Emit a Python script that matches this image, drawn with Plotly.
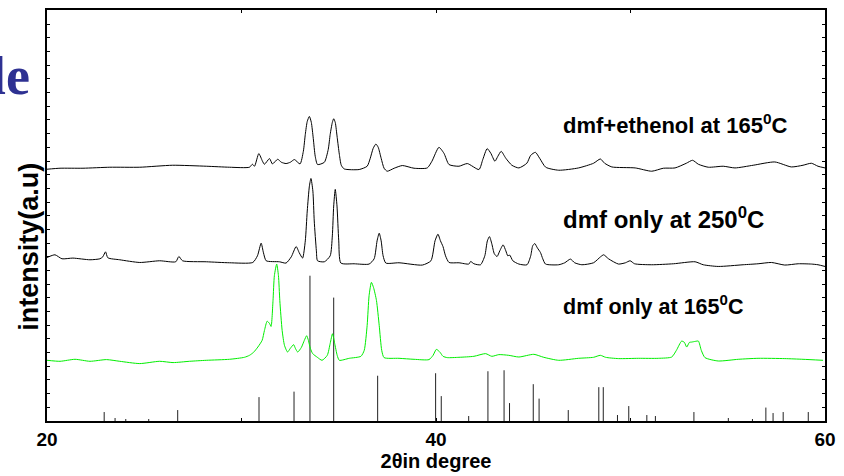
import plotly.graph_objects as go

# ---- data (2theta in degrees, intensity in arbitrary units) ----
top_x = [20.00, 20.67, 21.85, 23.23, 24.77, 26.46, 28.21, 29.38, 30.41, 30.56, 30.67, 30.89, 31.08, 31.18,
         31.44, 31.59, 31.86, 32.05, 32.29, 32.51, 32.72, 33.01, 33.18, 33.28, 33.38, 33.49, 33.59, 33.69,
         33.79, 33.91, 34.26, 34.46, 34.56, 34.67, 34.74, 34.82, 34.92, 35.03, 35.13, 35.28, 36.05, 36.46,
         36.62, 36.77, 36.91, 37.03, 37.18, 37.33, 37.49, 37.85, 38.27, 38.87, 39.55, 39.79, 40.15, 40.41,
         40.67, 41.18, 41.61, 42.21, 42.41, 42.63, 42.82, 43.03, 43.18, 43.35, 43.59, 43.90, 44.26, 44.67,
         44.87, 45.11, 45.33, 45.64, 46.31, 47.33, 48.10, 48.45, 48.67, 49.04, 50.24, 51.09, 51.69, 52.29,
         52.87, 53.19, 53.49, 54.00, 54.77, 55.37, 56.31, 57.42, 58.27, 58.87, 59.30, 59.64, 60.00]
top_y = [253, 254, 254, 255, 255, 257, 256, 255, 255, 258, 256, 268.7, 261, 258,
         263.7, 258.3, 263, 260, 258.7, 260, 262.7, 258.3, 271, 288, 301, 306, 300, 284,
         266, 257.7, 260, 273, 288, 300, 303.7, 300, 285, 268, 257, 253.3, 252.7, 256,
         264, 274, 278.3, 275, 264, 254, 251, 254, 256.7, 254, 254.3, 261, 275, 269,
         257.7, 256, 258.7, 252.7, 263, 273.7, 269, 261, 266, 271, 264, 257, 254.3, 259,
         267, 270, 264, 255, 252, 254.3, 259, 263.3, 259, 255.3, 254.3, 251, 254, 254.3,
         259, 262, 258, 255, 256, 254.3, 257, 260.3, 255.3, 257, 259, 256, 254.3]

mid_x = [20.00, 20.41, 20.77, 21.33, 22.21, 22.72, 22.87, 23.01, 23.13, 23.74, 24.77, 25.79, 26.62, 26.78,
         26.97, 28.19, 29.38, 30.58, 30.82, 31.01, 31.13, 31.27, 31.95, 32.29, 32.56, 32.81, 32.97, 33.14,
         33.28, 33.38, 33.49, 33.57, 33.67, 33.74, 33.85, 33.91, 34.26, 34.56, 34.67, 34.74, 34.82, 34.91,
         35.00, 35.11, 35.79, 36.56, 36.82, 36.97, 37.08, 37.18, 37.28, 37.42, 38.10, 39.30, 39.74, 39.95,
         40.10, 40.23, 40.36, 40.49, 40.67, 41.18, 41.69, 41.78, 41.95, 42.29, 42.51, 42.64, 42.75, 42.87,
         43.00, 43.14, 43.28, 43.45, 43.59, 43.69, 43.79, 43.95, 44.26, 44.68, 44.87, 44.97, 45.08, 45.21,
         45.37, 45.49, 45.63, 46.31, 46.62, 46.91, 47.13, 47.50, 48.10, 48.46, 48.62, 48.87, 49.38, 49.74,
         49.98, 50.21, 51.09, 52.21, 53.32, 53.74, 54.51, 55.79, 56.56, 57.25, 57.93, 58.62, 59.30, 59.64, 60.00]
mid_y = [164.3, 167, 163, 163.7, 162, 163, 165, 170, 164, 162, 159.3, 161, 160, 165.3,
         161, 160, 159, 159.3, 166, 178.7, 169, 161, 160, 158.7, 165, 175.3, 169, 163.7,
         181, 211, 236, 243.7, 231, 201, 171, 161, 160, 166, 186, 216, 232.7, 216,
         181, 158.7, 158, 157.7, 163, 181, 188.7, 181, 166, 158.7, 159, 156.7, 161, 181,
         187.7, 181, 175.3, 166, 159.3, 159, 157.7, 160.3, 158, 157, 166, 181, 185.3, 178,
         168, 165.3, 171, 177, 171, 166, 166.7, 161, 157.7, 157, 166, 176, 178.3, 174,
         169.3, 163, 157.7, 157, 159, 162.7, 159, 157, 159, 165, 167, 163, 157.7, 159,
         161, 158, 157, 158, 160, 157, 155.3, 157, 158, 159.3, 156.7, 158, 157.7, 157, 155.3]

low_x = [20.00, 20.67, 21.44, 22.21, 23.06, 23.74, 24.77, 25.79, 26.48, 27.33, 28.19, 29.38, 30.15, 30.41,
         30.62, 30.84, 31.06, 31.18, 31.32, 31.44, 31.52, 31.62, 31.69, 31.81, 31.90, 31.97, 32.09, 32.21,
         32.37, 32.51, 32.68, 32.77, 32.89, 33.08, 33.23, 33.35, 33.44, 33.54, 33.66, 33.90, 34.14, 34.41,
         34.56, 34.68, 34.79, 34.92, 35.03, 35.54, 36.14, 36.31, 36.46, 36.56, 36.68, 36.79, 36.94, 37.08,
         37.21, 37.33, 38.10, 38.87, 39.64, 39.85, 40.02, 40.21, 40.36, 40.58, 41.18, 41.95, 42.55, 42.87,
         43.23, 43.74, 44.26, 45.03, 45.54, 46.31, 47.33, 48.10, 48.45, 48.72, 49.38, 50.41, 51.44, 52.12,
         52.36, 52.63, 52.77, 52.89, 53.03, 53.14, 53.33, 53.49, 53.64, 53.83, 54.51, 55.54, 56.56, 57.93,
         58.87, 59.90]
low_y = [61, 60, 62, 60, 61.7, 60, 57.7, 60, 58.7, 60, 61, 62, 64, 66,
         69, 74.3, 81, 91, 100.3, 98, 95, 121, 146, 157.7, 146, 121, 91, 76,
         69.3, 73, 76.7, 73, 69.3, 74, 81, 85.7, 81, 73, 67.7, 64, 61, 66,
         78, 87.7, 78, 66, 61, 63, 65, 71, 96, 126, 139.3, 134, 121, 96,
         71, 63.7, 63, 62, 61.7, 66, 72, 69, 65, 63.7, 64, 65, 67.7, 65,
         66.7, 66, 64.3, 67, 64, 61, 63, 64, 66, 64, 62.7, 63, 63, 64.3,
         71, 80.3, 79, 74.3, 79, 79.3, 80, 80.3, 71, 63.7, 60.3, 62, 63, 62.7,
         62, 61]

ref_pos = [22.94, 23.50, 24.05, 25.23, 26.72, 30.90, 32.70, 33.52, 34.74, 37.00, 39.98, 40.27, 41.68,
           42.67, 43.50, 43.78, 45.00, 45.30, 46.80, 48.37, 48.60, 49.33, 49.91, 50.84, 51.28, 53.26,
           55.03, 56.27, 56.96, 57.33, 57.85, 59.14]
ref_int = [9, 3, 2, 2, 11, 24, 29.5, 146, 124, 45.5, 48, 25, 5,
           50, 51, 18, 37, 22.5, 11, 34, 34, 6, 15, 6, 5, 9,
           3, 2, 13.5, 8, 9, 9]

labels = ["dmf+ethenol at 165<sup>0</sup>C", "dmf only at 250<sup>0</sup>C", "dmf only at 165<sup>0</sup>C"]
x_ticks = [20, 30, 40, 50, 60]
x_ticktext = ["20", "", "40", "", "60"]

# ---- build figure ----
fig = go.Figure()

stick_x, stick_y = [], []
for p, h in zip(ref_pos, ref_int):
    stick_x += [p, p, None]
    stick_y += [0, h, None]
fig.add_trace(go.Scatter(x=stick_x, y=stick_y, mode="lines",
                         line=dict(color="#222222", width=1), hoverinfo="skip"))

fig.add_trace(go.Scatter(x=low_x, y=low_y, mode="lines", line=dict(color="#00ee00", width=1, shape="spline", smoothing=0.6)))
fig.add_trace(go.Scatter(x=mid_x, y=mid_y, mode="lines", line=dict(color="#000000", width=1, shape="spline", smoothing=0.6)))
fig.add_trace(go.Scatter(x=top_x, y=top_y, mode="lines", line=dict(color="#000000", width=1, shape="spline", smoothing=0.6)))

font_b = dict(family="Liberation Sans, Arial, sans-serif", color="black", weight="bold")

fig.add_annotation(x=46.41, y=298.5, xref="x", yref="y", text=labels[0], showarrow=False,
                   xanchor="left", yanchor="middle", font=dict(**font_b, size=22))
fig.add_annotation(x=46.41, y=203.5, xref="x", yref="y", text=labels[1], showarrow=False,
                   xanchor="left", yanchor="middle", font=dict(**font_b, size=24))
fig.add_annotation(x=46.45, y=117, xref="x", yref="y", text=labels[2], showarrow=False,
                   xanchor="left", yanchor="middle", font=dict(**font_b, size=21.5))

# y-axis title as rotated annotation
fig.add_annotation(x=-0.023, y=0.424, xref="paper", yref="paper", text="intensity(a.u)",
                   showarrow=False, textangle=-90, xanchor="center", yanchor="middle",
                   font=dict(**font_b, size=27))

# cropped blue heading fragment at top-left
fig.add_annotation(x=-0.019, y=0.84, xref="paper", yref="paper", text="<b>le</b>", showarrow=False,
                   xanchor="right", yanchor="middle",
                   font=dict(family="Liberation Serif, Times New Roman, serif", size=54,
                             color="#2e3192", weight="bold"))

fig.update_layout(
    width=844, height=476,
    margin=dict(l=47, r=17, t=8, b=55),
    paper_bgcolor="white", plot_bgcolor="white",
    showlegend=False,
    xaxis=dict(range=[20, 60], tickvals=x_ticks, ticktext=x_ticktext,
               ticks="inside", ticklen=3, tickcolor="black",
               showline=True, linecolor="black", linewidth=1.5, mirror="ticks",
               showgrid=False, zeroline=False,
               tickfont=dict(**font_b, size=19),
               title=dict(text="2θin degree", font=dict(**font_b, size=20), standoff=2)),
    yaxis=dict(range=[0, 413], tick0=0, dtick=13.75, ticks="inside", ticklen=3, tickcolor="black",
               showticklabels=False, showline=True, linecolor="black", linewidth=1.5,
               mirror="ticks", showgrid=False, zeroline=False),
)

fig.write_html("out.html", config={"displayModeBar": False},
               post_script="document.body.style.margin='0';")
